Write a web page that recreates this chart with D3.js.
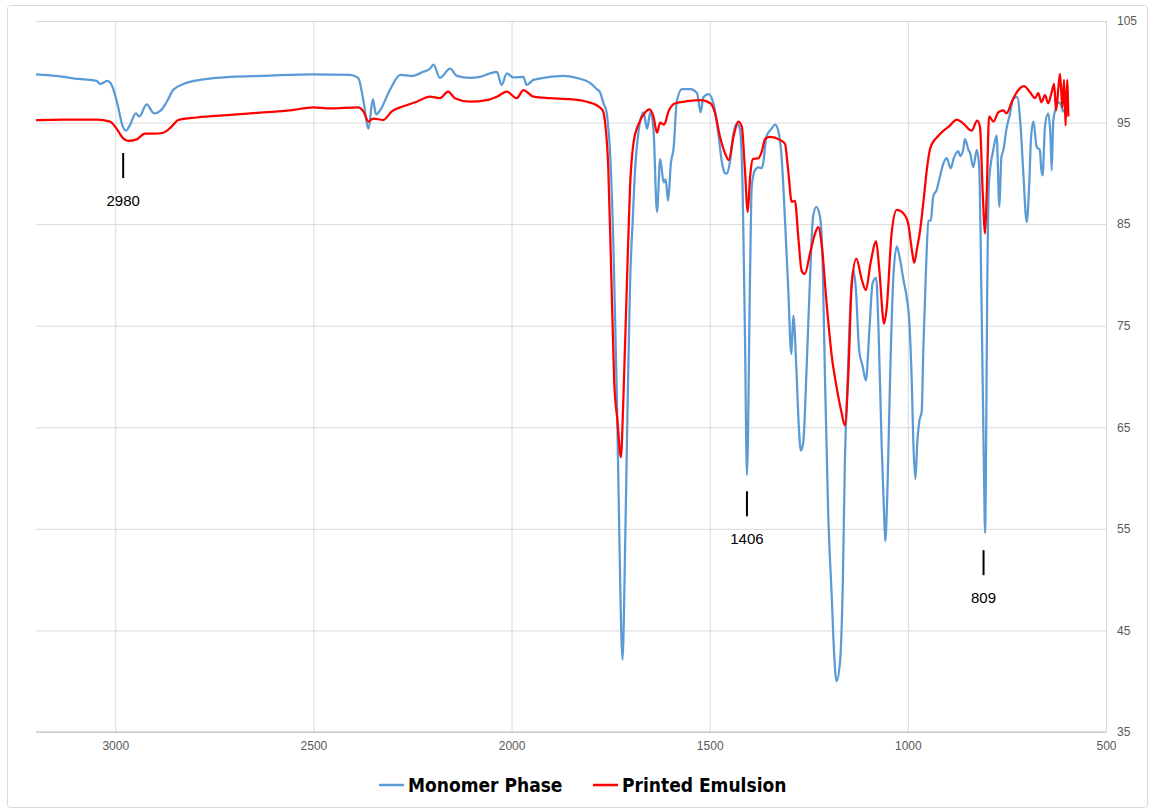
<!DOCTYPE html>
<html>
<head>
<meta charset="utf-8">
<script src="https://d3js.org/d3.v7.min.js"></script>
<style>
  body { margin: 0; background: #fff; }
</style>
</head>
<body>
<div id="chart"></div>
<script>
  // FTIR data: wavenumber (cm-1) and transmittance (%)
  let monoWn = [3200,3150,3106,3047,3038,3020,3009,2995,2981,2973,2963,2948,2939,2921,2902,2885,2870,2854,2828,2778,2710,2626,2501,2408,2387,2374,2361,2350,2342,2332,2307,2281,2249,2223,2206,2197,2181,2155,2138,2105,2080,2054,2037,2025,2012,1996,1970,1962,1945,1911,1869,1836,1802,1785,1777,1768,1760,1756,1752,1743,1734,1728,1720,1713,1707,1701,1694,1688,1680,1667,1658,1650,1642,1633,1625,1616,1611,1605,1598,1591,1583,1570,1549,1532,1523,1516,1503,1490,1478,1470,1464,1461,1456,1449,1440,1432,1424,1417,1411,1406,1398,1394,1386,1377,1369,1365,1357,1344,1335,1327,1318,1310,1302,1294,1289,1281,1276,1270,1264,1255,1247,1239,1231,1222,1215,1209,1201,1192,1186,1180,1171,1164,1159,1152,1146,1138,1131,1123,1114,1106,1097,1089,1080,1074,1066,1060,1057,1052,1045,1037,1028,1021,1011,1003,996,990,986,981,976,971,965,961,954,948,942,936,927,919,910,902,892,884,873,868,860,856,847,843,835,826,820,814,808,805,803,800,795,784,776,769,764,759,751,742,734,724,716,709,700,694,689,683,675,667,663,660,654,646,640,637,633,626,620,616,608];
  let monoT = [99.75,99.6,99.36,99.1,98.8,99.1,98.7,96.9,94.6,94.2,94.75,95.9,95.6,96.8,95.9,96.2,97.05,98.2,98.8,99.25,99.5,99.6,99.75,99.7,99.4,97.2,94.4,97.3,95.8,96.2,98.2,99.7,99.6,100,100.3,100.7,99.4,100.3,99.6,99.4,99.5,99.85,100,98.7,99.85,99.45,99.5,98.7,99.2,99.45,99.6,99.4,98.9,98.3,98.0,96.9,96.0,94.5,92.5,82.9,67.6,54.2,42.1,54.2,67.6,79.1,85.6,90.6,94,96,94.4,96,94.4,86.2,91.4,89.1,89.4,87.3,91,92.5,97.1,98.3,98.3,97.9,96,97.5,97.8,96.8,93.8,91.3,90.2,90,90,91.1,93.9,94.9,94.4,88.7,73.9,60.3,80.5,88.7,90.3,90.6,90.5,91,93.6,94.4,94.8,94.2,91.3,85.4,78.8,72.2,76,70.5,65.7,62.7,63.5,71.3,79.5,85.8,86.7,85.8,81.2,69.6,56.5,48.3,42.7,40,42,49.9,61.4,69.6,76.2,80.5,78.5,72.6,71,69.6,74.6,79.2,79.7,74.6,63.1,56.5,53.8,58.1,69.6,79.5,82.8,81.8,79.5,77.8,75.2,69.3,63.3,59.9,63.6,65.6,66.6,72.6,80.8,85.3,85.4,87.7,88.4,89.7,91,91.5,90.5,91.5,92.2,91.7,92.4,93.4,92.3,92,90.6,92.3,90.6,77.2,60.8,54.6,60.8,77.2,89.3,92.4,93.75,86.7,91.6,92.3,94.4,95.9,97.4,97.5,94.9,90.3,85.2,88.7,93.6,95.1,92.6,92.3,90.3,89.8,94.6,95.9,93.6,90.3,95.2,96.5,97,96.9,96];

  let emulWn = [3200,3131,3047,3013,2995,2980,2967,2946,2925,2902,2879,2858,2841,2794,2710,2626,2559,2500,2458,2387,2374,2361,2349,2324,2302,2273,2239,2206,2181,2160,2143,2105,2063,2037,2012,1987,1970,1945,1903,1853,1810,1785,1770,1764,1756,1749,1741,1733,1724,1718,1709,1701,1692,1680,1663,1652,1642,1633,1625,1615,1604,1587,1557,1523,1498,1487,1474,1461,1452,1440,1428,1419,1411,1404,1398,1391,1377,1369,1360,1348,1323,1310,1302,1293,1285,1276,1268,1260,1247,1234,1226,1217,1205,1192,1180,1167,1159,1150,1142,1130,1116,1106,1094,1080,1072,1060,1053,1041,1028,1015,1000,990,984,976,969,961,952,944,936,923,910,894,877,860,839,825,818,811,805,801,795,784,772,759,751,738,725,707,692,679,671,663,654,646,637,631,626,620,616,610,606,602,598,595];
  let emulT = [95.25,95.3,95.3,95.1,94.3,93.45,93.2,93.35,93.9,93.9,94,94.6,95.25,95.5,95.75,96,96.2,96.5,96.4,96.5,96.1,95.1,95.4,95.25,96.1,96.6,97.05,97.55,97.4,98.04,97.4,97.05,97.2,97.55,98.04,97.4,98.2,97.55,97.4,97.3,97.05,96.7,96.2,95.0,90.6,81,69.5,65.7,62.05,67.6,79.1,88.7,93.1,94.8,96,96.3,95.6,94,95,94.8,96.1,96.9,97.1,97.2,96.9,96,93.6,91.95,91.3,93.6,95.1,94.6,90.3,86.2,89.7,91.4,91.5,92.1,93.4,93.6,93.3,92.9,90.3,87.2,87.3,83.5,80.4,80.1,82.1,84.1,84.7,82.8,77.2,72,69,66.4,65.2,70.4,78.8,81.6,79.5,78.5,81.2,83.3,80.5,75.2,76.9,84.1,86.4,86.2,85.2,82.5,81.2,82.8,84.4,87.1,90.4,92.4,93.1,93.7,94.2,94.7,95.3,94.9,94.2,95.2,94.6,88,84.1,88,95.6,95.1,96,96.2,95.9,97,98,98.6,98,97.4,97.9,97,97.7,96.9,98,98.8,96.2,98.5,99.8,96.5,99.2,94.7,99.2,95.6];

  let seriesNames = ["Monomer Phase", "Printed Emulsion"];
  let seriesColors = ["#5B9BD5", "#FF0000"];
  let xTicks = [3000, 2500, 2000, 1500, 1000, 500];
  let yTicks = [35, 45, 55, 65, 75, 85, 95, 105];

  // marked peaks: wavenumber, top of marker (T %), label
  let peakWn = [2980, 1406, 809];
  let peakTop = [92, 58.7, 52.9];
  let peakLabels = ["2980", "1406", "809"];

  let width = 1150, height = 809;
  let plotLeft = 36, plotRight = 1106, plotTop = 21, plotBottom = 732;

  let svg = d3.select("#chart").append("svg")
    .attr("width", width)
    .attr("height", height)
    .style("font-family", "'Liberation Sans Narrow', 'DejaVu Sans Condensed', sans-serif");

  // outer chart border
  svg.append("rect")
    .attr("x", 7.5).attr("y", 5.5)
    .attr("width", 1140).attr("height", 802)
    .attr("rx", 3)
    .style("fill", "#fff")
    .style("stroke", "#D9D9D9");

  let x = d3.scaleLinear().domain([3200, 500]).range([plotLeft, plotRight]);
  let y = d3.scaleLinear().domain([35, 105]).range([plotBottom, plotTop]);

  // vertical grid + x labels
  let xAxis = svg.append("g")
    .attr("transform", "translate(0," + plotBottom + ")")
    .call(d3.axisBottom(x).tickValues(xTicks).tickFormat(d3.format("d"))
      .tickSize(-(plotBottom - plotTop)).tickPadding(9));
  xAxis.select(".domain").remove();
  xAxis.selectAll("line").style("stroke", "#D9D9D9");
  xAxis.selectAll("text").style("fill", "#595959").style("font-size", "12px");

  // horizontal grid + y labels on the right
  let yAxis = svg.append("g")
    .attr("transform", "translate(" + plotRight + ",0)")
    .call(d3.axisRight(y).tickValues(yTicks).tickFormat(d3.format("d"))
      .tickSize(-(plotRight - plotLeft)).tickPadding(11));
  yAxis.select(".domain").remove();
  yAxis.selectAll("line").style("stroke", "#D9D9D9");
  yAxis.selectAll("text").style("fill", "#595959").style("font-size", "12px");

  // bottom axis line
  svg.append("line")
    .attr("x1", plotLeft).attr("x2", plotRight)
    .attr("y1", plotBottom).attr("y2", plotBottom)
    .style("stroke", "#BFBFBF");

  let line = d3.line()
    .x(d => x(d[0]))
    .y(d => y(d[1]))
    .curve(d3.curveMonotoneX);

  let series = [
    d3.zip(monoWn, monoT),
    d3.zip(emulWn, emulT)
  ];

  svg.append("g")
    .selectAll("path")
    .data(series)
    .enter()
    .append("path")
      .attr("d", line)
      .style("fill", "none")
      .style("stroke", (d, i) => seriesColors[i])
      .style("stroke-width", 2.25)
      .style("stroke-linejoin", "round");

  // peak markers
  let peaks = svg.append("g").selectAll("g")
    .data(peakWn)
    .enter()
    .append("g");
  peaks.append("line")
    .attr("x1", d => x(d)).attr("x2", d => x(d))
    .attr("y1", (d, i) => y(peakTop[i]))
    .attr("y2", (d, i) => y(peakTop[i]) + 25)
    .style("stroke", "#000")
    .style("stroke-width", 2);
  peaks.append("text")
    .attr("x", d => x(d))
    .attr("y", (d, i) => y(peakTop[i]) + 53)
    .attr("text-anchor", "middle")
    .style("font-family", "'Liberation Sans', Arial, sans-serif")
    .style("font-size", "15px")
    .style("fill", "#000")
    .text((d, i) => peakLabels[i]);

  // legend
  let legendX = [379, 593];
  let legend = svg.append("g").selectAll("g")
    .data(seriesNames)
    .enter()
    .append("g")
    .attr("transform", (d, i) => "translate(" + legendX[i] + ",785)");
  legend.append("line")
    .attr("x1", 0).attr("x2", 25)
    .style("stroke", (d, i) => seriesColors[i])
    .style("stroke-width", 2.5);
  legend.append("text")
    .attr("x", 29)
    .attr("dy", "0.36em")
    .style("font-size", "19px")
    .style("font-weight", "bold")
    .style("fill", "#000")
    .text(d => d);
</script>
</body>
</html>
